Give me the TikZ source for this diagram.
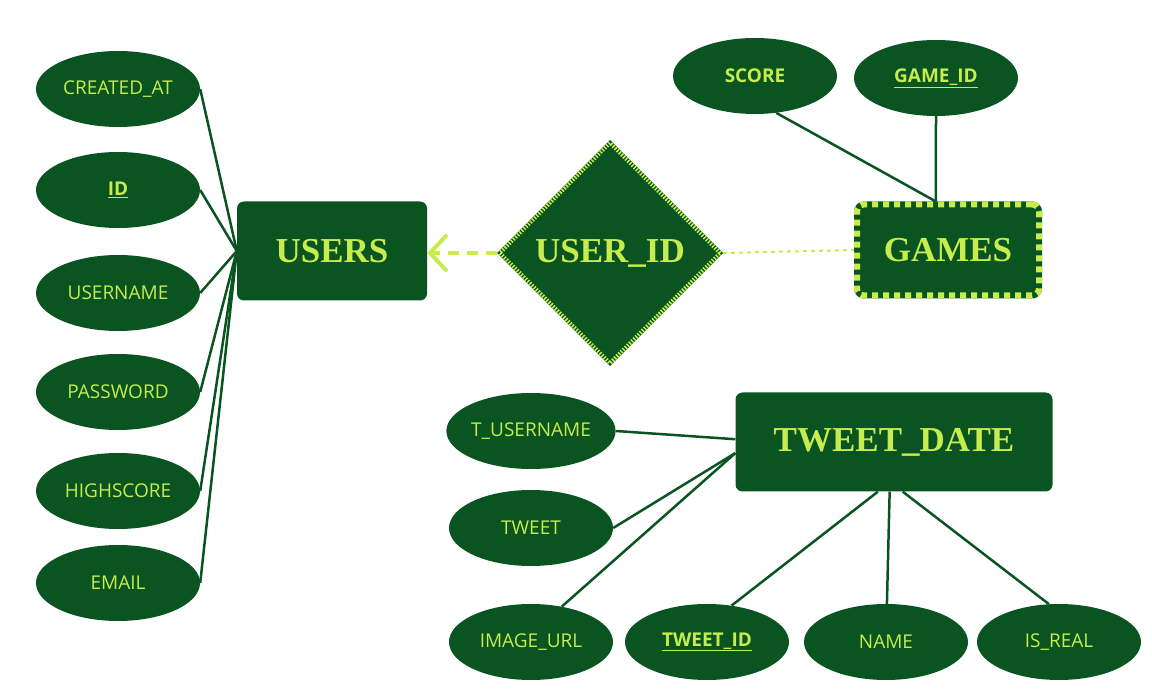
\documentclass[tikz,border=0pt]{standalone}
\usepackage{fontspec}
\usetikzlibrary{shapes.geometric, arrows.meta, positioning}
\newfontfamily\attrfont{Open Sans}
\newfontfamily\entfont{Liberation Serif}
\definecolor{erdark}{RGB}{10,84,33}
\definecolor{erlime}{RGB}{198,236,78}

\begin{document}
\begin{tikzpicture}[x=1pt, y=-1pt,
        attr/.style={ellipse, fill=erdark, text=erlime, minimum width=164pt, minimum height=76pt,
            inner sep=0pt, font=\attrfont\fontsize{19}{21}\selectfont},
        keyattr/.style={attr, font=\attrfont\bfseries\fontsize{19}{21}\selectfont},
        entity/.style={rectangle, rounded corners=7pt, fill=erdark, text=erlime, inner sep=0pt,
            font=\entfont\bfseries\fontsize{35}{38}\selectfont},
        link/.style={draw=erdark, line width=2.5pt}]
        \useasboundingbox (0,0) rectangle (1152,700);

        % entities
        \node [entity, minimum width=190pt, minimum height=99pt] (users) at (332,251) {USERS};
        \node [entity, minimum width=182pt, minimum height=91pt, draw=erdark, line width=6pt,
               postaction={draw=erlime, line width=6pt, dash pattern=on 6pt off 5pt}] (games) at (948,250) {GAMES};
        \node [entity, minimum width=317pt, minimum height=99pt] (tweetdate) at (894,442) {TWEET\_DATE};
        \node [diamond, aspect=1, minimum width=222pt, minimum height=222pt, inner sep=0pt,
               fill=erdark, text=erlime, draw=erdark, line width=4pt,
               postaction={draw=erlime, line width=4pt, dash pattern=on 1.5pt off 1.5pt},
               font=\entfont\bfseries\fontsize{35}{38}\selectfont] (userid) at (610,253) {USER\_ID};

        % attributes of USERS
        \node [attr] (createdat) at (118,89) {CREATED\_AT};
        \node [keyattr] (id) at (118,190) {\underline{ID}};
        \node [attr] (username) at (118,293) {USERNAME};
        \node [attr] (password) at (118,392) {PASSWORD};
        \node [attr] (highscore) at (118,491) {HIGHSCORE};
        \node [attr] (email) at (118,583) {EMAIL};

        % attributes of GAMES
        \node [keyattr] (score) at (755,76) {SCORE};
        \node [keyattr] (gameid) at (936,78) {\underline{GAME\_ID}};

        % attributes of TWEET_DATE
        \node [attr] (tusername) at (531,431) {T\_USERNAME};
        \node [attr] (tweet) at (531,528) {TWEET};
        \node [attr] (imageurl) at (531,642) {IMAGE\_URL};
        \node [keyattr] (tweetid) at (707,642) {\underline{TWEET\_ID}};
        \node [attr] (name) at (886,642) {NAME};
        \node [attr] (isreal) at (1059,642) {IS\_REAL};

        \path[link]
        (users.west) edge (createdat.east)
                     edge (id.east)
                     edge (username.east)
                     edge (password.east)
                     edge (highscore.east)
                     edge (email.east)
        (games.104)  edge (score.-60)
                     edge (gameid.south)
        (tweetdate.179) edge (tusername.east)
        (tweetdate.184) edge (tweet.east)
                        edge (imageurl.49)
        (tweetdate.252) edge (tweetid.56)
        (tweetdate.265) edge (name)
        (tweetdate.280) edge (isreal.105);

        % relationship
        \draw[erlime, line width=4pt, dash pattern=on 11pt off 8pt,
              -{Straight Barb[length=16pt, width=34pt, line cap=round]}]
            (userid.west) -- (userid.west -| users.east);
        \draw[erlime, line width=2pt, dash pattern=on 4pt off 4pt] (userid.east) -- (games.west);
\end{tikzpicture}
\end{document}
